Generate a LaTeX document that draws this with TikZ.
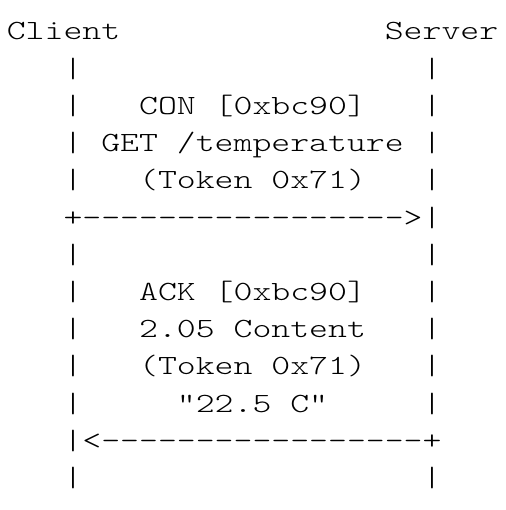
\documentclass[tikz,border=0pt]{standalone}
\usepackage{fontspec}
\usepackage{graphicx}
\newfontfamily\monofnt[Ligatures=TeXOff]{lmmonolt10-regular.otf}
\newcommand{\asc}[1]{\scalebox{1.295}[1]{\monofnt\fontsize{27.8pt}{27.8pt}\selectfont #1}}
\tikzset{ascii/.style={anchor=base west, inner sep=0pt, outer sep=0pt}}
\begin{document}
\begin{tikzpicture}[x=1pt,y=1pt]
\useasboundingbox (0,0) rectangle (505,-510);
\node[ascii] (l0)  at (6.8,-40.0)  {\asc{Client~~~~~~~~~~~~~~Server}};
\node[ascii] (l1)  at (6.8,-77.2)  {\asc{~~~|~~~~~~~~~~~~~~~~~~|}};
\node[ascii] (l2)  at (6.8,-114.4) {\asc{~~~|~~~CON [0xbc90]~~~|}};
\node[ascii] (l3)  at (6.8,-151.6) {\asc{~~~|~GET /temperature~|}};
\node[ascii] (l4)  at (6.8,-188.8) {\asc{~~~|~~~(Token 0x71)~~~|}};
\node[ascii] (l5)  at (6.8,-226.0) {\asc{~~~+----------------->|}};
\node[ascii] (l6)  at (6.8,-263.2) {\asc{~~~|~~~~~~~~~~~~~~~~~~|}};
\node[ascii] (l7)  at (6.8,-300.4) {\asc{~~~|~~~ACK [0xbc90]~~~|}};
\node[ascii] (l8)  at (6.8,-337.6) {\asc{~~~|~~~2.05 Content~~~|}};
\node[ascii] (l9)  at (6.8,-374.8) {\asc{~~~|~~~(Token 0x71)~~~|}};
\node[ascii] (l10) at (6.8,-412.0) {\asc{~~~|~~~~~"22.5 C"~~~~~|}};
\node[ascii] (l11) at (6.8,-449.2) {\asc{~~~|<-----------------+}};
\node[ascii] (l12) at (6.8,-486.4) {\asc{~~~|~~~~~~~~~~~~~~~~~~|}};
\end{tikzpicture}
\end{document}
